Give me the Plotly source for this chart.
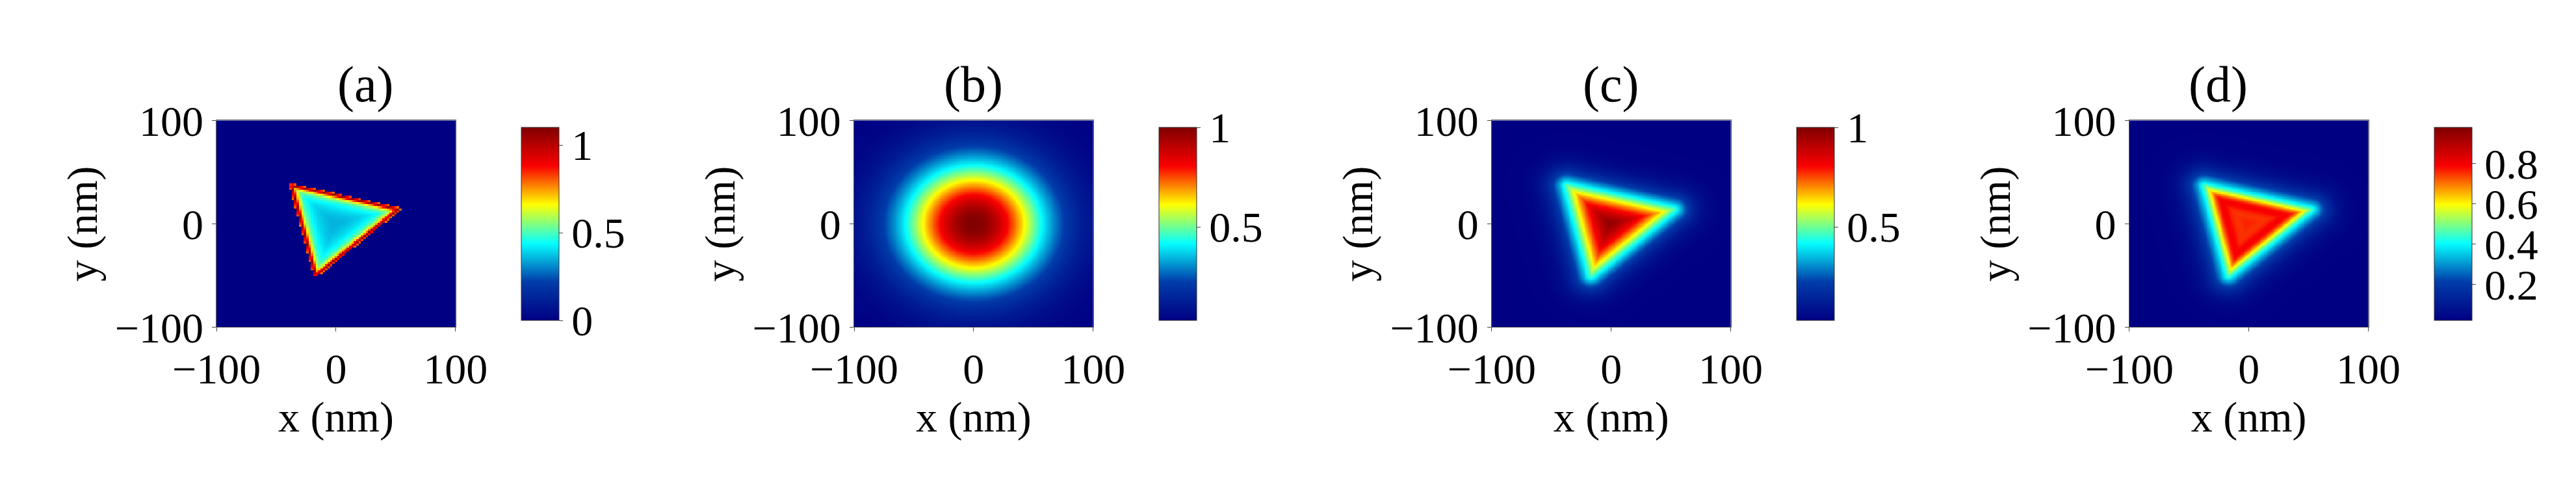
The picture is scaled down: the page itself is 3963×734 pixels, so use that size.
import numpy as np
import plotly.graph_objects as go

# panel labels and axis ticks
panel_titles = ["(a)", "(b)", "(c)", "(d)"]
axis_ticks = [-100, 0, 100]
axis_tick_text = ["\u2212100", "0", "100"]

# triangle corners (nm)
tri_x = [-37, 52, -17]
tri_y = [37, 14, -50]

# colour ranges and colorbar ticks per panel
z_min = [0.0, 0.03, 0.03, 0.02]
z_max = [1.1, 1.0, 1.0, 0.98]
cbar_ticks = [[0, 0.5, 1], [0.5, 1], [0.5, 1], [0.2, 0.4, 0.6, 0.8]]
cbar_text = [["0", "0.5", "1"], ["0.5", "1"], ["0.5", "1"], ["0.2", "0.4", "0.6", "0.8"]]

# gaussian spot of panel (b): radius (nm)
spot_radius = 42


def signed_dist(X, Y):
    # negative inside the triangle
    d_edges = []
    inside = np.ones_like(X, dtype=bool)
    for i in range(3):
        x1, y1 = tri_x[i], tri_y[i]
        x2, y2 = tri_x[(i + 1) % 3], tri_y[(i + 1) % 3]
        ex, ey = x2 - x1, y2 - y1
        t = np.clip(((X - x1) * ex + (Y - y1) * ey) / (ex * ex + ey * ey), 0, 1)
        d_edges.append(np.hypot(X - x1 - t * ex, Y - y1 - t * ey))
        cross = ex * (Y - y1) - ey * (X - x1)
        inside &= cross < 0
    d = np.min(d_edges, axis=0)
    return np.where(inside, -d, d)


xs_a = np.arange(-100, 101, 2.0)
Xa, Ya = np.meshgrid(xs_a, xs_a)
da = signed_dist(Xa, Ya)
za = np.where(da <= 2, 0.33 + 0.27 * np.exp(np.minimum(da, 0) / 10)
              + 0.5 * np.exp(-np.abs(da) / 2), 0.0)

xs = np.linspace(-100, 100, 201)
X, Y = np.meshgrid(xs, xs)
d = signed_dist(X, Y)
zb = 0.03 + 0.97 * np.exp(-(X ** 2 + Y ** 2) / (2 * spot_radius ** 2))
mask = 1 / (1 + np.exp((d - 2) / 8))
zc = 0.03 + 0.97 * mask * (0.85 + 0.15 * np.clip(-d / 25, 0, 1))
zd = 0.02 + 0.96 * mask * (0.8 + 0.2 * np.exp(-((d + 8) / 7) ** 2))

grids = [(xs_a, za), (xs, zb), (xs, zc), (xs, zd)]

fig = go.Figure()
step = 1011 / 3963
font = dict(family="Liberation Serif", size=66, color="black")
for i, (g, z) in enumerate(grids):
    x0 = 265 / 3963 + i * step
    x1 = x0 + 379 / 3963
    cx = 738 / 3963 + i * step
    n = "" if i == 0 else str(i + 1)
    fig.add_trace(go.Heatmap(
        x=g, y=g, z=z, colorscale="Jet", zmin=z_min[i], zmax=z_max[i],
        xaxis="x" + n, yaxis="y" + n,
        colorbar=dict(x=cx, xanchor="left", y=0.545, len=0.48, thickness=58,
                      outlinewidth=1, outlinecolor="#333", tickvals=cbar_ticks[i],
                      ticktext=cbar_text[i], ticks="outside", ticklen=6,
                      tickfont=font)))
    fig.layout["xaxis" + n] = dict(
        domain=[x0, x1], anchor="y" + n, range=[-100, 100], tickvals=axis_ticks,
        ticktext=axis_tick_text, ticks="outside", ticklen=6, showline=True,
        linecolor="#555", mirror=True, tickfont=font, title=dict(text="x (nm)", font=font))
    fig.layout["yaxis" + n] = dict(
        domain=[0.305, 0.786], anchor="x" + n, range=[-100, 100], tickvals=axis_ticks,
        ticktext=axis_tick_text, ticks="outside", ticklen=6, showline=True,
        linecolor="#555", mirror=True, tickfont=font, title=dict(text="y (nm)", font=font, standoff=5))
    fig.add_annotation(text=panel_titles[i], x=(x0 + x1) / 2, y=0.94, xref="paper", yref="paper",
                       showarrow=False, font=dict(family="Liberation Serif", size=78, color="black"))

fig.update_layout(width=3963, height=734, margin=dict(l=0, r=0, t=0, b=0),
                  paper_bgcolor="white", plot_bgcolor="white")
fig.write_html("out.html")
